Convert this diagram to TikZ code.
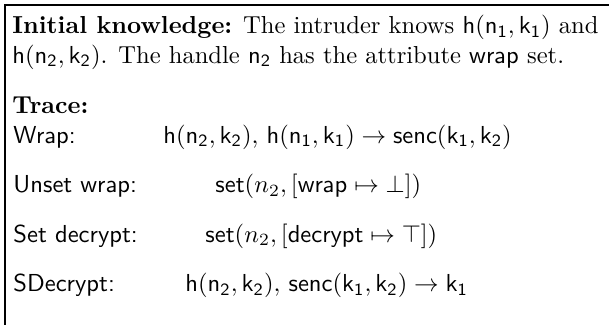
\documentclass[tikz,border=0pt]{standalone}
\usepackage{amsmath, amssymb}

\newcommand{\hnd}[2]{\mathsf{h}(\mathsf{#1},\mathsf{#2})}
\newcommand{\firstline}{\textbf{Initial knowledge:} The intruder knows $\hnd{n_1}{k_1}$ and}

% one unit of the picture: the first line is 586 units long
\newlength\linewd
\newlength\pxu
\settowidth\linewd{\firstline}
\setlength\pxu{\dimexpr\linewd/586\relax}

\begin{document}
\begin{tikzpicture}[x=\pxu, y=-\pxu,
  txt/.style={anchor=base west, inner sep=0pt},
  lbl/.style={txt, font=\sffamily}]
\useasboundingbox (0,0) rectangle (609,325);
\draw[line width=2\pxu] (609,5) -- (5,5) -- (5,325);

\node[txt] (init) at (12,34) {\firstline};
\node[txt] (init2) at (12,63) {$\hnd{n_2}{k_2}$. The handle $\mathsf{n_2}$ has the attribute $\mathsf{wrap}$ set.};
\node[txt] (trace) at (12,113) {\textbf{Trace:}};

\node[lbl] (wrapl) at (13,143) {Wrap:};
\node[txt] (wrapr) at (163,143) {$\hnd{n_2}{k_2},\,\hnd{n_1}{k_1}\rightarrow\mathsf{senc}(\mathsf{k_1},\mathsf{k_2})$};

\node[lbl] (unsetl) at (13,192.5) {Unset wrap:};
\node[txt] (unsetr) at (215,192.5) {$\mathsf{set}(n_2,[\mathsf{wrap}\mapsto\bot])$};

\node[lbl] (setl) at (13,242) {Set decrypt:};
\node[txt] (setr) at (205,242) {$\mathsf{set}(n_2,[\mathsf{decrypt}\mapsto\top])$};

\node[lbl] (sdecl) at (13,291.5) {SDecrypt:};
\node[txt] (sdecr) at (185,291.5) {$\hnd{n_2}{k_2},\,\mathsf{senc}(\mathsf{k_1},\mathsf{k_2})\rightarrow\mathsf{k_1}$};
\end{tikzpicture}
\end{document}
